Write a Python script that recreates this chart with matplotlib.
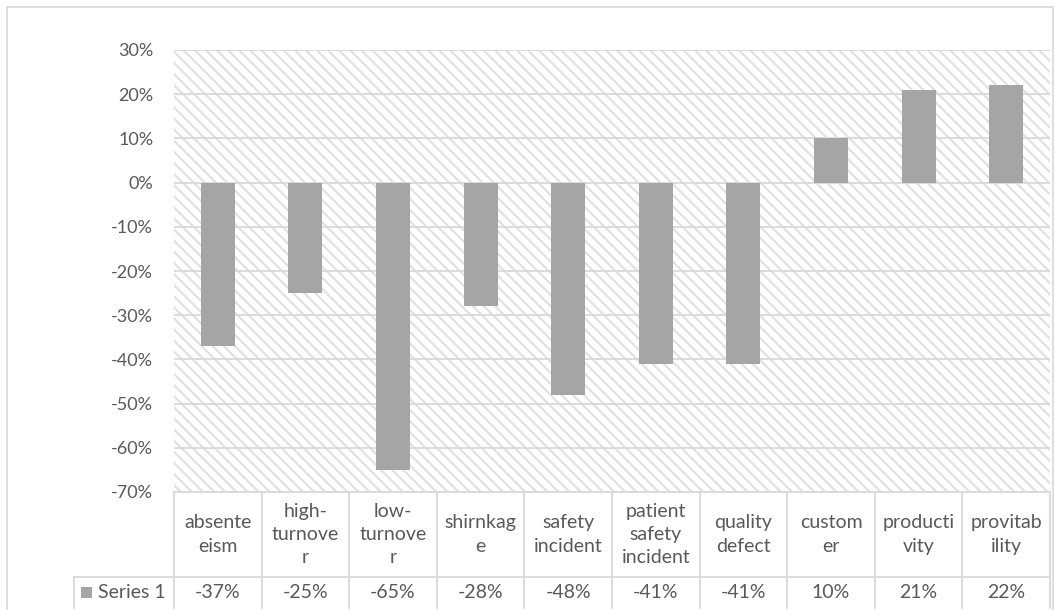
import numpy as np
import matplotlib.pyplot as plt
from matplotlib.patches import Rectangle
from matplotlib.ticker import FuncFormatter

plt.rcParams['font.family'] = ['Lato', 'DejaVu Sans']
plt.rcParams['hatch.linewidth'] = 1.5

# header texts are wrapped the way the table cells show them
categories = ["absente\neism", "high-\nturnove\nr", "low-\nturnove\nr", "shirnkag\ne",
              "safety\nincident", "patient\nsafety\nincident", "quality\ndefect",
              "custom\ner", "producti\nvity", "provitab\nility"]
series_name = "Series 1"
values = [-0.37, -0.25, -0.65, -0.28, -0.48, -0.41, -0.41, 0.10, 0.21, 0.22]
yticks = [-0.7, -0.6, -0.5, -0.4, -0.3, -0.2, -0.1, 0.0, 0.1, 0.2, 0.3]

txt = '#595959'
grid = '#d9d9d9'
bar_c = '#a5a5a5'
fs = 13
fs_tab = 14

W, H = 1055, 610
fig = plt.figure(figsize=(W / 100, H / 100), dpi=100)

# outer chart border
fig.patches.append(Rectangle((7 / W, -0.01), (W - 9) / W, 1 - 7 / H + 0.01,
                             transform=fig.transFigure, facecolor='none',
                             edgecolor=grid, lw=1.2))

L, R = 174, 1050
top, bot = 50, 492
ax = fig.add_axes([L / W, 1 - bot / H, (R - L) / W, (bot - top) / H])
x = np.arange(len(values))

ax.add_patch(Rectangle((0, 0), 1, 1, transform=ax.transAxes, facecolor='white',
                       edgecolor='#e0e0e0', lw=0, hatch='\\\\\\', zorder=0))
ax.bar(x, values, width=0.39, color=bar_c, zorder=3)

ax.set_xlim(-0.5, len(values) - 0.5)
ax.set_ylim(-0.7, 0.3)
ax.set_yticks(yticks)
ax.yaxis.set_major_formatter(FuncFormatter(lambda v, p: f"{round(v * 100):d}%"))
ax.tick_params(axis='y', length=0, pad=15, labelsize=fs, labelcolor=txt)
ax.set_xticks([])
ax.grid(axis='y', color=grid, lw=1.3, zorder=1)
ax.set_axisbelow(False)
for s in ax.spines.values():
    s.set_visible(False)

# data table under the axis, y in pixels below the axis bottom
tab = fig.add_axes([L / W, 0, (R - L) / W, (H - bot) / H])
tab.set_xlim(-0.5, len(values) - 0.5)
tab.set_ylim(H - bot, 0)
tab.axis('off')
row1 = 85
row2 = 116
slot = (R - L) / len(values)
x_left = -0.5 - (L - 74) / slot

tab.plot([-0.5, len(values) - 0.5], [0, 0], color=grid, lw=1.3, clip_on=False)
tab.plot([x_left, len(values) - 0.5], [row1, row1], color=grid, lw=1.3, clip_on=False)
for b in np.arange(-0.5, len(values), 1.0):
    tab.plot([b, b], [0, row2], color=grid, lw=1.3, clip_on=False)
tab.plot([x_left, x_left], [row1, row2], color=grid, lw=1.3, clip_on=False)

for i, (c, v) in enumerate(zip(categories, values)):
    tab.text(i, row1 / 2, c, ha='center', va='center', fontsize=fs_tab, color=txt,
             linespacing=1.45)
    tab.text(i, (row1 + row2) / 2, f"{round(v * 100):d}%", ha='center', va='center',
             fontsize=fs_tab, color=txt)

# legend key in the row header
tab.add_patch(Rectangle((-0.5 - (L - 81) / slot, 95), 11 / slot, 11, facecolor=bar_c,
                        edgecolor='none', clip_on=False))
tab.text(-0.5 - (L - 98) / slot, (row1 + row2) / 2, series_name, ha='left', va='center',
         fontsize=fs_tab, color=txt)

fig.savefig("out.png", dpi=100)
